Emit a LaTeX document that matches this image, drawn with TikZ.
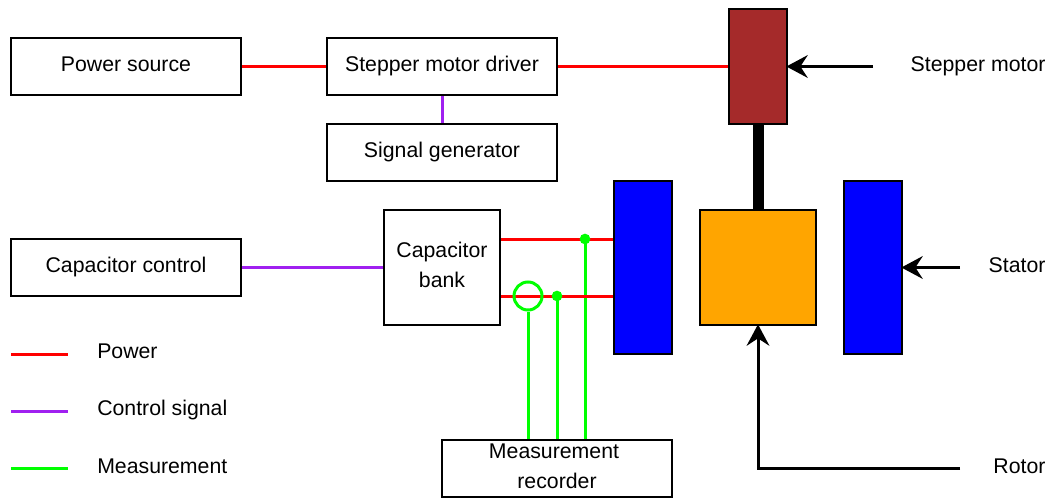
\documentclass[tikz,border=0pt]{standalone}
\usepackage{fontspec}
\setmainfont{Liberation Sans}
\usepackage{tikz}
\usetikzlibrary{arrows.meta}
\definecolor{ctrlpurple}{RGB}{160,32,240}
\definecolor{rotororange}{RGB}{255,165,0}
\definecolor{motorbrown}{RGB}{165,42,42}
\begin{document}
\begin{tikzpicture}
	[x=0.75pt, y=-0.75pt, node distance={237pt},
	every node/.style = {font=\fontsize{15.95}{22.5}\selectfont, inner sep=0pt},
	main/.style = {draw, rectangle, line width=2.05pt, align=center, minimum width=172.5pt, minimum height=42.75pt},
	single/.style = {main, text height=11pt, text depth=4.2pt},
	block/.style = {draw, rectangle, line width=2.05pt, minimum width=43.5pt},
	power/.style = {draw=red, line width=2.25pt},
	control/.style = {draw=ctrlpurple, line width=2.25pt},
	measure/.style = {draw=green, line width=2.25pt},
	pointer/.style = {draw, line width=2.25pt, shorten >=-1.5pt, -{Stealth[length=16pt, width=17pt, inset=5.5pt]}},
	tap/.style = {fill=green, circle, minimum size=8pt}]
	\useasboundingbox (0,0) rectangle (1051,500);
	\node[single] (source) at (126,66.5) {Power source};
	\node[single] (driver) [right of=source] {Stepper motor driver};
	\node[single] (signal) [below of=driver, node distance=64.5pt] {Signal generator};
	\node[single] (capctrl) at (126,267.5) {Capacitor control};
	\node[main, minimum width=87pt, minimum height=86.25pt, text depth=4.5pt] (bank) at (442,267.5) {Capacitor\\bank};
	\node[main, text depth=3pt] (recorder) at (557,468.5) {Measurement\hspace*{4.5pt}\\recorder};
	\node[block, fill=motorbrown, minimum height=86.25pt] (motor) at (758,66.5) {};
	\node[block, fill=blue, minimum height=129.75pt] (statorL) at (643,267.5) {};
	\node[block, fill=blue, minimum height=129.75pt] (statorR) at (873,267.5) {};
	\node[block, fill=rotororange, minimum width=87pt, minimum height=86.25pt] (rotor) at (758,267.5) {};
	\node[anchor=base east] (motorlabel) at (1045.7,71.5) {Stepper motor};
	\node[anchor=base east] (statorlabel) at (1045.7,272.3) {Stator};
	\node[anchor=base east] (rotorlabel) at (1045.7,473) {Rotor};
	\coordinate (motorin) at (873,66.5);
	\coordinate (statorin) at (960,267.5);
	\coordinate (rotorin) at (960,468);
	\coordinate (jointA) at (585,239);
	\coordinate (jointB) at (557,296);
	\draw[line width=8.25pt] (motor) -- (rotor);
	\draw[power] (source) -- (driver);
	\draw[power] (driver) -- (motor);
	\draw[control] (driver) -- (signal);
	\draw[control] (capctrl) -- (bank);
	\draw[measure] (jointB) -- (jointB |- recorder.north);
	\draw[measure] (jointA) -- (jointA |- recorder.north);
	\draw[power] (bank.east |- jointA) -- (jointA -| statorL.west);
	\draw[power] (bank.east |- jointB) -- (jointB -| statorL.west);
	\node[draw=green, circle, line width=2.25pt, minimum size=21pt] (sensor) at (528,296) {};
	\draw[measure] (sensor.south) -- (sensor.south |- recorder.north);
	\node[tap] (tapA) at (jointA) {};
	\node[tap] (tapB) at (jointB) {};
	\draw[pointer] (motorin) -- (motor.east);
	\draw[pointer] (statorin) -- (statorR.east);
	\draw[pointer] (rotorin) -| (rotor.south);
	% legend
	\coordinate (keyA) at (11,354);
	\coordinate (keyB) at (11,411);
	\coordinate (keyC) at (11,468);
	\coordinate (keyAend) at (68,354);
	\coordinate (keyBend) at (68,411);
	\coordinate (keyCend) at (68,468);
	\draw[power] (keyA) -- (keyAend);
	\draw[control] (keyB) -- (keyBend);
	\draw[measure] (keyC) -- (keyCend);
	\node[anchor=base west] (keypower) at (97,358) {Power};
	\node[anchor=base west] (keycontrol) at (97,415) {Control signal};
	\node[anchor=base west] (keymeasure) at (97,473) {Measurement};
\end{tikzpicture}
\end{document}
